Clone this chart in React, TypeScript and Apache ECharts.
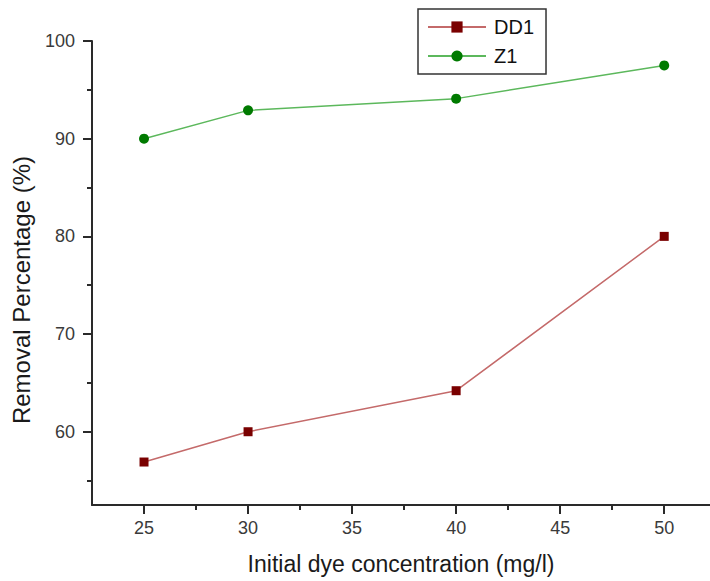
import React, { useEffect, useRef } from "react";
import * as echarts from "echarts";

const concentrations = [25, 30, 40, 50];
const dd1Values = [56.9, 60.0, 64.2, 80.0];
const z1Values = [90.0, 92.9, 94.1, 97.5];
const xTickValues = [25, 30, 35, 40, 45, 50];
const xMinorTickValues = [27.5, 32.5, 37.5, 42.5, 47.5];
const yTickValues = [60, 70, 80, 90, 100];
const yMinorTickValues = [55, 65, 75, 85, 95];

export default function App() {
  const ref = useRef<HTMLDivElement>(null);
  useEffect(() => {
    if (!ref.current) return;
    const chart = echarts.init(ref.current, undefined, { renderer: "svg" });
    const axisColor = "#2a2a2a";
    const labelColor = "#3a3a3a";
    const font = "Liberation Sans, Arial, sans-serif";
    chart.setOption({
      animation: false,
      backgroundColor: "#ffffff",
      grid: { left: 92, right: 0, top: 41, bottom: 76, containLabel: false },
      legend: {
        left: 418,
        top: 9,
        orient: "vertical",
        padding: [8, 12, 8, 9],
        borderColor: "#333333",
        borderWidth: 1.5,
        itemWidth: 58,
        itemHeight: 14,
        itemGap: 9,
        textStyle: { fontSize: 20, fontFamily: font, color: "#111111", padding: [0, 0, 0, 3] },
        data: ["DD1", "Z1"],
      },
      xAxis: [
        {
          type: "value",
          min: 22.5,
          max: 52.2,
          name: "Initial dye concentration (mg/l)",
          nameLocation: "middle",
          nameGap: 47,
          nameTextStyle: { fontSize: 23, fontFamily: font, color: "#1a1a1a" },
          axisLine: { show: true, lineStyle: { color: axisColor, width: 2 } },
          axisTick: { show: true, inside: false, length: 9, customValues: xTickValues, lineStyle: { color: axisColor, width: 2 } },
          axisLabel: { customValues: xTickValues, fontSize: 18, fontFamily: font, color: labelColor, margin: 14 },
          splitLine: { show: false },
        },
        {
          type: "value",
          min: 22.5,
          max: 52.2,
          position: "bottom",
          axisLine: { show: false },
          axisTick: { show: true, length: 5, customValues: xMinorTickValues, lineStyle: { color: axisColor, width: 2 } },
          axisLabel: { show: false },
          splitLine: { show: false },
        },
      ],
      yAxis: [
        {
          type: "value",
          min: 52.5,
          max: 100,
          axisLine: { show: true, lineStyle: { color: axisColor, width: 2 } },
          axisTick: { show: true, length: 9, customValues: yTickValues, lineStyle: { color: axisColor, width: 2 } },
          axisLabel: { customValues: yTickValues, fontSize: 18, fontFamily: font, color: labelColor, margin: 17 },
          splitLine: { show: false },
        },
        {
          type: "value",
          min: 52.5,
          max: 100,
          position: "left",
          axisLine: { show: false },
          axisTick: { show: true, length: 5, customValues: yMinorTickValues, lineStyle: { color: axisColor, width: 2 } },
          axisLabel: { show: false },
          splitLine: { show: false },
        },
      ],
      graphic: [
        {
          type: "text",
          x: 21,
          y: 290,
          rotation: Math.PI / 2,
          style: {
            text: "Removal Percentage (%)",
            fontSize: 24,
            fontFamily: font,
            fill: "#1a1a1a",
            textAlign: "center",
            textVerticalAlign: "middle",
          },
        },
      ],
      series: [
        {
          name: "DD1",
          type: "line",
          xAxisIndex: 0,
          yAxisIndex: 0,
          data: concentrations.map((c, i) => [c, dd1Values[i]]),
          symbol: "rect",
          symbolSize: 9,
          itemStyle: { color: "#7a0000" },
          lineStyle: { color: "#c46a6a", width: 1.5 },
          z: 3,
        },
        {
          name: "Z1",
          type: "line",
          xAxisIndex: 0,
          yAxisIndex: 0,
          data: concentrations.map((c, i) => [c, z1Values[i]]),
          symbol: "circle",
          symbolSize: 10,
          itemStyle: { color: "#007a00" },
          lineStyle: { color: "#5cb85c", width: 1.5 },
          z: 3,
        },
      ],
    });
    return () => chart.dispose();
  }, []);
  return (
    <div
      ref={ref}
      style={{ position: "fixed", left: 0, top: 0, width: 710, height: 581, background: "#fff" }}
    />
  );
}
